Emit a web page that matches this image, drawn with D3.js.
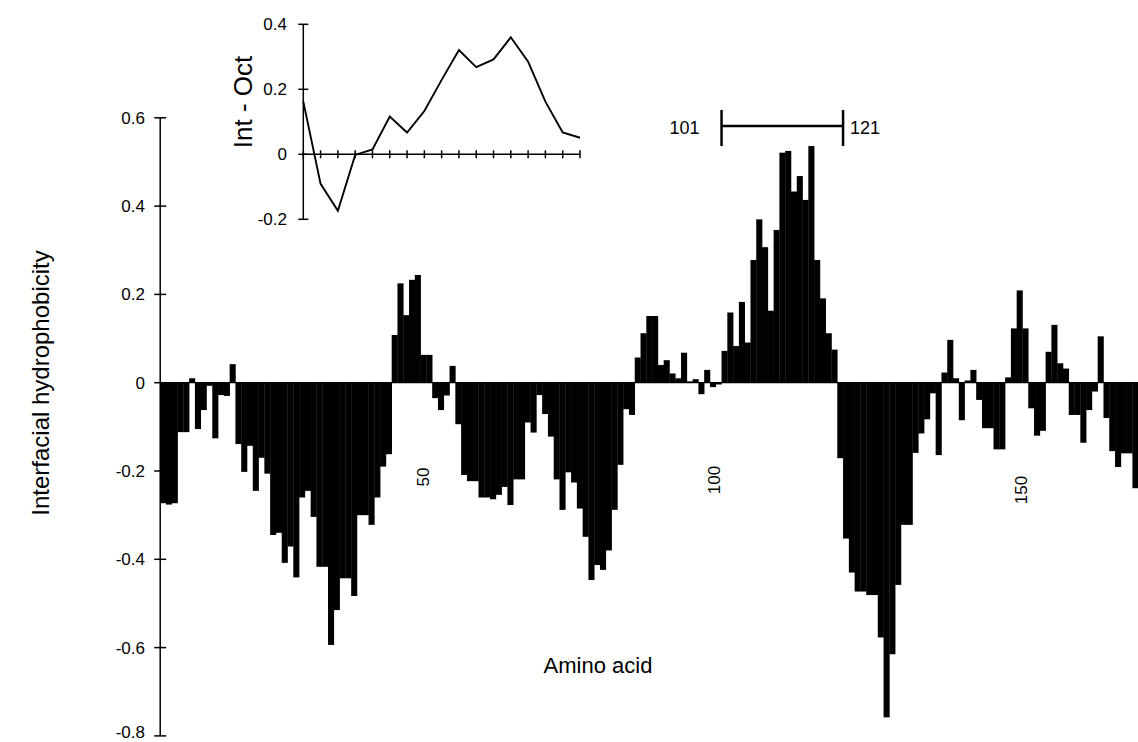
<!DOCTYPE html>
<html>
<head>
<meta charset="utf-8">
<script src="https://cdn.jsdelivr.net/npm/d3@7"></script>
<style>
  html, body { margin: 0; padding: 0; background: #fff; }
  svg { display: block; }
  text { font-family: "Liberation Sans", Arial, Helvetica, sans-serif; fill: #000; }
</style>
</head>
<body>
<svg id="chart" width="1138" height="742"></svg>
<script>
// Interfacial hydrophobicity profile (window-averaged), first plotted residue = 4
const firstResidue = 4;
const hydrophobicity = [
  -0.273, -0.276, -0.273, -0.112, -0.112, 0.010, -0.105, -0.062, -0.007, -0.126,
  -0.028, -0.030, 0.042, -0.139, -0.202, -0.143, -0.245, -0.170, -0.206, -0.345,
  -0.340, -0.408, -0.371, -0.441, -0.260, -0.245, -0.304, -0.417, -0.417, -0.594,
  -0.515, -0.443, -0.443, -0.483, -0.300, -0.300, -0.322, -0.260, -0.190, -0.162,
  0.108, 0.225, 0.153, 0.233, 0.244, 0.063, 0.063, -0.035, -0.062, -0.029,
  0.038, -0.094, -0.209, -0.223, -0.223, -0.260, -0.260, -0.264, -0.254, -0.236,
  -0.277, -0.219, -0.219, -0.090, -0.113, -0.028, -0.071, -0.122, -0.219, -0.288,
  -0.203, -0.226, -0.285, -0.349, -0.447, -0.413, -0.424, -0.380, -0.288, -0.186,
  -0.060, -0.073, 0.057, 0.112, 0.151, 0.151, 0.040, 0.051, 0.021, 0.010,
  0.068, 0.003, 0.008, -0.026, 0.029, -0.010, -0.004, 0.072, 0.159, 0.083,
  0.183, 0.091, 0.278, 0.370, 0.307, 0.163, 0.346, 0.521, 0.525, 0.433,
  0.468, 0.414, 0.536, 0.278, 0.191, 0.112, 0.075, -0.171, -0.353, -0.430,
  -0.473, -0.473, -0.481, -0.481, -0.577, -0.758, -0.615, -0.458, -0.322, -0.322,
  -0.159, -0.115, -0.083, -0.024, -0.164, 0.023, 0.097, 0.010, -0.085, 0.005,
  0.029, -0.039, -0.103, -0.103, -0.151, -0.151, 0.012, 0.123, 0.209, 0.123,
  -0.058, -0.120, -0.109, 0.070, 0.131, 0.044, 0.032, -0.073, -0.073, -0.136,
  -0.062, -0.020, 0.105, -0.080, -0.155, -0.191, -0.160, -0.160, -0.239
];
const residues = hydrophobicity.map((_, i) => firstResidue + i);
const yTicks = [0.6, 0.4, 0.2, 0, -0.2, -0.4, -0.6, -0.8];
const residueLabels = [50, 100, 150];
const segment = [101, 121];

// Inset: interface minus octanol scale difference
const insetValues = [0.162, -0.091, -0.174, -0.002, 0.015, 0.116, 0.067, 0.133, 0.229,
                     0.321, 0.268, 0.292, 0.360, 0.285, 0.162, 0.067, 0.051];
const insetYTicks = [0.4, 0.2, 0, -0.2];

// plain-hyphen number format, "0" for zero
const fmt = d => d === 0 ? "0" : (d < 0 ? "-" : "") + Math.abs(d).toFixed(1);

const svg = d3.select("#chart");

const x = d3.scaleBand().domain(residues).range([160.2, 1138.2]).padding(0);
const y = d3.scaleLinear().domain([-0.8, 0.6]).range([735.9, 117.8]);

// bars
svg.append("g").selectAll("rect")
  .data(hydrophobicity)
  .join("rect")
  .attr("x", (d, i) => x(residues[i]))
  .attr("width", x.bandwidth() + 0.3)
  .attr("y", d => y(Math.max(0, d)))
  .attr("height", d => Math.abs(y(d) - y(0)))
  .attr("fill", "#000");

// zero line
svg.append("line")
  .attr("x1", x.range()[0]).attr("x2", 1138)
  .attr("y1", y(0)).attr("y2", y(0))
  .attr("stroke", "#000").attr("stroke-width", 1.2);

// y axis with ticks crossing the line
const yAxis = svg.append("g").attr("transform", `translate(${x.range()[0]},0)`);
yAxis.append("line")
  .attr("y1", y(0.6)).attr("y2", y(-0.8))
  .attr("stroke", "#000").attr("stroke-width", 1.5);
yAxis.selectAll("line.tick").data(yTicks).join("line")
  .attr("class", "tick")
  .attr("x1", -6).attr("x2", 6)
  .attr("y1", d => y(d)).attr("y2", d => y(d))
  .attr("stroke", "#000").attr("stroke-width", 1.5);
svg.append("g").selectAll("text").data(yTicks).join("text")
  .attr("x", 145).attr("y", d => Math.min(y(d), 732))
  .attr("dy", "0.35em")
  .attr("text-anchor", "end")
  .attr("font-size", 17)
  .text(fmt);

// residue number labels, rotated
const labelPos = [[423, 477], [714, 480], [1021, 490]];
svg.append("g").selectAll("text").data(residueLabels).join("text")
  .attr("transform", (d, i) => `translate(${labelPos[i][0]},${labelPos[i][1]}) rotate(-90)`)
  .attr("text-anchor", "middle")
  .attr("dy", "0.35em")
  .attr("font-size", 17)
  .text(d => d);

// axis titles
svg.append("text")
  .attr("transform", `translate(41,383) rotate(-90)`)
  .attr("text-anchor", "middle")
  .attr("dy", "0.35em")
  .attr("font-size", 24)
  .text("Interfacial hydrophobicity");

svg.append("text")
  .attr("x", 598).attr("y", 673)
  .attr("text-anchor", "middle")
  .attr("font-size", 22)
  .text("Amino acid");

// bracket marking residues 101-121
const bx1 = x(segment[0]), bx2 = x(segment[1]) + x.bandwidth();
const bracket = svg.append("g").attr("stroke", "#000").attr("stroke-width", 2.5);
bracket.append("line").attr("x1", bx1).attr("x2", bx2).attr("y1", 126).attr("y2", 126);
bracket.append("line").attr("x1", bx1).attr("x2", bx1).attr("y1", 110).attr("y2", 146);
bracket.append("line").attr("x1", bx2).attr("x2", bx2).attr("y1", 110).attr("y2", 146);
svg.append("text").attr("x", bx1 - 22).attr("y", 128).attr("dy", "0.35em")
  .attr("text-anchor", "end").attr("font-size", 18).text(segment[0]);
svg.append("text").attr("x", bx2 + 7).attr("y", 128).attr("dy", "0.35em")
  .attr("text-anchor", "start").attr("font-size", 18).text(segment[1]);

// inset line chart
const ix = d3.scaleLinear().domain([0, insetValues.length - 1]).range([303.3, 580]);
const iy = d3.scaleLinear().domain([-0.2, 0.4]).range([219.3, 24.3]);
const inset = svg.append("g");
inset.append("line").attr("x1", ix(0)).attr("x2", ix(0))
  .attr("y1", iy(0.4)).attr("y2", iy(-0.2))
  .attr("stroke", "#000").attr("stroke-width", 1.5);
inset.append("line").attr("x1", ix(0)).attr("x2", ix(insetValues.length - 1))
  .attr("y1", iy(0)).attr("y2", iy(0))
  .attr("stroke", "#000").attr("stroke-width", 1.5);
inset.selectAll("line.yt").data(insetYTicks).join("line")
  .attr("class", "yt")
  .attr("x1", ix(0) - 5).attr("x2", ix(0) + 5)
  .attr("y1", d => iy(d)).attr("y2", d => iy(d))
  .attr("stroke", "#000").attr("stroke-width", 1.5);
inset.selectAll("line.xt").data(d3.range(insetValues.length)).join("line")
  .attr("class", "xt")
  .attr("x1", d => ix(d)).attr("x2", d => ix(d))
  .attr("y1", iy(0) - 4).attr("y2", iy(0) + 4)
  .attr("stroke", "#000").attr("stroke-width", 1.5);
inset.append("path")
  .datum(insetValues)
  .attr("d", d3.line().x((d, i) => ix(i)).y(d => iy(d)))
  .attr("fill", "none").attr("stroke", "#000").attr("stroke-width", 1.9)
  .attr("stroke-linejoin", "miter");
inset.selectAll("text").data(insetYTicks).join("text")
  .attr("x", 287).attr("y", d => iy(d)).attr("dy", "0.35em")
  .attr("text-anchor", "end").attr("font-size", 17)
  .text(fmt);
svg.append("text")
  .attr("transform", `translate(243,102) rotate(-90)`)
  .attr("text-anchor", "middle")
  .attr("dy", "0.35em")
  .attr("font-size", 26)
  .text("Int - Oct");
</script>
</body>
</html>
